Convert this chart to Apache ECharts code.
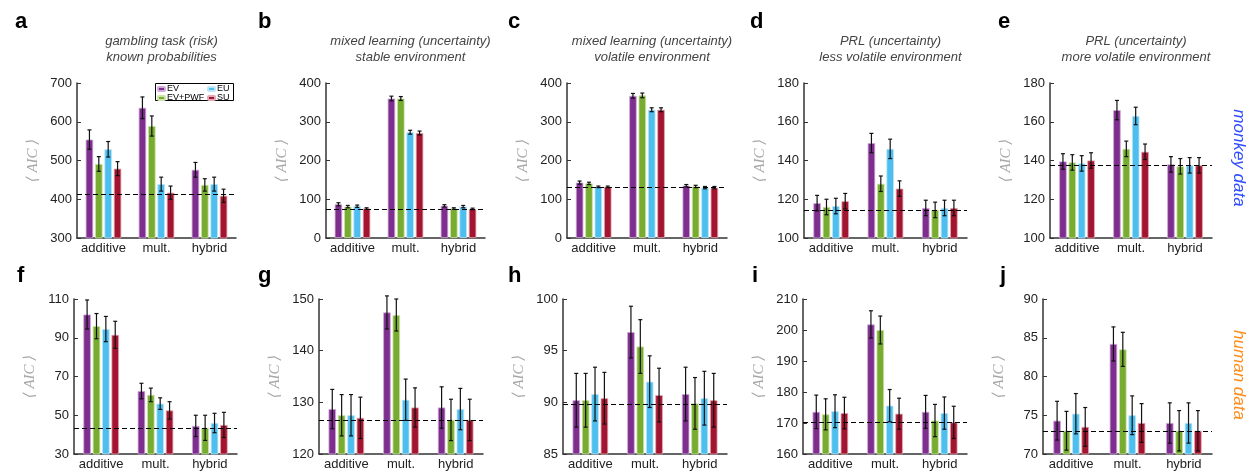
<!DOCTYPE html>
<html>
<head>
<meta charset="utf-8">
<script src="https://cdn.jsdelivr.net/npm/echarts@6/dist/echarts.min.js"></script>
<style>
	html, body { margin: 0; padding: 0; background: #fff; }
	#chart { width: 1256px; height: 476px; }
</style>
</head>
<body>
<div id="chart"></div>
<script>
	// categories and models
	const categories = ['additive', 'mult.', 'hybrid'];
	const models = ['EV', 'EV+PWF', 'EU', 'SU'];
	const letters = ['a', 'b', 'c', 'd', 'e', 'f', 'g', 'h', 'i', 'j'];
	const titles = [
		'gambling task (risk)\nknown probabilities',
		'mixed learning (uncertainty)\nstable environment',
		'mixed learning (uncertainty)\nvolatile environment',
		'PRL (uncertainty)\nless volatile environment',
		'PRL (uncertainty)\nmore volatile environment'
	];

	// y ticks per panel: [min, max, step]
	const yTicks = [
		[300, 700, 100], [0, 400, 100], [0, 400, 100], [100, 180, 20], [100, 180, 20],
		[30, 110, 20], [120, 150, 10], [85, 100, 5], [160, 210, 10], [70, 90, 5]
	];
	// dashed reference line per panel
	const baselines = [412, 75, 130, 114.5, 137.5, 43.5, 126.6, 89.8, 170.2, 72.9];

	// mean AIC: one row per model (EV, EV+PWF, EU, SU), columns = additive, mult., hybrid
	const meanA = [[554, 636, 476], [491, 589, 437], [529, 439, 439], [479, 417, 409]];
	const errA = [[25, 28, 19], [19, 26, 16], [20, 18, 18], [18, 17, 17]];
	const meanB = [[87, 360, 83], [81, 360, 76], [82, 273, 81], [76, 271, 75]];
	const errB = [[4, 6, 3], [3, 5, 2], [3, 5, 3], [2, 5, 2]];
	const meanC = [[143, 367, 135], [141, 368, 133], [132, 331, 130], [132, 331, 130]];
	const errC = [[4, 6, 3], [3, 6, 3], [2, 5, 3], [2, 5, 3]];
	const meanD = [[118, 149, 115.5], [116, 128, 114.5], [116.5, 146, 115.5], [119, 125.5, 115.5]];
	const errD = [[4, 5, 4], [4, 4, 4], [4, 5, 4], [4, 4, 4]];
	const meanE = [[139.5, 166, 138], [139, 146, 137], [138.5, 163, 137.5], [140, 144.5, 137.5]];
	const errE = [[4, 5, 4], [4, 4, 4], [4, 4.5, 4], [4, 4, 4]];
	const meanF = [[102, 62.5, 44.5], [96, 60.5, 43.5], [94.5, 56, 46], [91.5, 52.5, 45]];
	const errF = [[7.5, 4, 5.5], [6.5, 3.5, 6.5], [6.5, 3, 5], [7, 4.5, 6.5]];
	const meanG = [[128.7, 147.4, 129], [127.5, 146.9, 126.6], [127.5, 130.5, 128.7], [127, 129, 126.6]];
	const errG = [[3.8, 3.2, 4], [4, 3.1, 4], [4, 4, 4], [4, 3.8, 4]];
	const meanH = [[90.2, 96.8, 90.8], [90.2, 95.4, 89.9], [90.8, 92.0, 90.4], [90.4, 90.7, 90.2]];
	const errH = [[2.6, 2.5, 2.6], [2.6, 2.6, 2.5], [2.6, 2.5, 2.6], [2.5, 2.6, 2.6]];
	const meanI = [[173.6, 201.8, 173.6], [172.8, 200, 170.8], [173.8, 175.6, 173.2], [173.2, 173, 170.2]];
	const errI = [[5.4, 4.4, 5.3], [5, 4.5, 5.2], [5.3, 5.2, 5.2], [5.1, 5, 5.2]];
	const meanJ = [[74.3, 84.2, 74], [73, 83.5, 73], [75.2, 75, 74], [73.5, 74, 73]];
	const errJ = [[2.5, 2.2, 2.6], [2.5, 2.2, 2.6], [2.6, 2.5, 2.6], [2.5, 2.5, 2.6]];

	const means = [meanA, meanB, meanC, meanD, meanE, meanF, meanG, meanH, meanI, meanJ];
	const errs = [errA, errB, errC, errD, errE, errF, errG, errH, errI, errJ];

	const colors = ['#7E2F8E', '#77AC30', '#4DBEEE', '#A2142F'];
	const edge = ['#D2A9DA', '#CDE3A8', '#BDE6F8', '#E3A6B3'];
	const font = '"Liberation Sans", Arial, sans-serif';

	// axes layout
	const boxes = [
		[77, 83, 159], [326, 83, 159], [567, 83, 160], [804, 83, 163], [1050, 83, 162],
		[74, 299, 163], [319, 299, 164], [563, 299, 164], [803, 299, 164], [1043, 299, 169]
	];
	const letterPos = [
		[10, 6], [253, 6], [503, 6], [745, 6], [993, 6],
		[12, 260], [253, 260], [503, 260], [747, 260], [995, 260]
	];

	const BAR_W = 7.5;
	const BAR_GAP = 0.25;
	const step = BAR_W * (1 + BAR_GAP);

	let grid = [], xAxis = [], yAxis = [], series = [], title = [];

	boxes.forEach((b, p) => {
		grid.push({ left: b[0], top: b[1], width: b[2], height: 155 });
		xAxis.push({
			type: 'category', gridIndex: p, data: categories,
			axisLine: { lineStyle: { color: '#333', width: 1.5 } },
			axisTick: { inside: true, length: 4, alignWithLabel: true, lineStyle: { color: '#333' } },
			axisLabel: { interval: 0, color: '#222', fontSize: 13, fontFamily: font, margin: 4 }
		});
		yAxis.push({
			type: 'value', gridIndex: p,
			min: yTicks[p][0], max: yTicks[p][1], interval: yTicks[p][2],
			name: '⟨ AIC ⟩', nameLocation: 'middle', nameGap: 36, nameRotate: 90,
			nameTextStyle: { color: '#A8A8A8', fontSize: 15, fontStyle: 'italic', fontFamily: '"Liberation Serif", "DejaVu Serif", serif' },
			axisLine: { show: true, lineStyle: { color: '#333', width: 1.5 } },
			axisTick: { show: true, inside: true, length: 4, lineStyle: { color: '#333' } },
			axisLabel: { color: '#222', fontSize: 13, fontFamily: font, margin: 5 },
			splitLine: { show: false }
		});

		models.forEach((m, s) => {
			let bar = {
				name: m, type: 'bar', xAxisIndex: p, yAxisIndex: p,
				data: means[p][s], barWidth: BAR_W, barGap: (BAR_GAP * 100) + '%',
				itemStyle: { color: colors[s], borderColor: edge[s], borderWidth: 0.8 },
				silent: true
			};
			if (s === 0) {
				bar.markLine = {
					silent: true, symbol: ['none', 'none'], label: { show: false },
					lineStyle: { color: '#000', type: [5, 3], width: 1.2 },
					data: [{ yAxis: baselines[p] }],
					z: 5
				};
			}
			series.push(bar);
		});

		// error bars
		let errData = [];
		models.forEach((m, s) => {
			categories.forEach((c, k) => {
				errData.push([k, s, means[p][s][k], errs[p][s][k]]);
			});
		});
		series.push({
			type: 'custom', xAxisIndex: p, yAxisIndex: p, z: 4, silent: true,
			encode: { x: 0, y: 2 },
			data: errData,
			renderItem: function (params, api) {
				let k = api.value(0), s = api.value(1), m = api.value(2), e = api.value(3);
				let hi = api.coord([k, m + e]);
				let lo = api.coord([k, m - e]);
				let x = hi[0] + (s - 1.5) * step;
				let st = { stroke: '#111', lineWidth: 1.2 };
				return {
					type: 'group',
					children: [
						{ type: 'line', shape: { x1: x, y1: hi[1], x2: x, y2: lo[1] }, style: st },
						{ type: 'line', shape: { x1: x - 2, y1: hi[1], x2: x + 2, y2: hi[1] }, style: st },
						{ type: 'line', shape: { x1: x - 2, y1: lo[1], x2: x + 2, y2: lo[1] }, style: st }
					]
				};
			}
		});

		title.push({
			text: letters[p], left: letterPos[p][0], top: letterPos[p][1],
			textStyle: { fontSize: 22, fontWeight: 'bold', color: '#000', fontFamily: font }
		});
		if (p < 5) {
			title.push({
				text: titles[p], left: b[0] + b[2] / 2, top: 28, textAlign: 'center',
				textStyle: { fontSize: 13, fontStyle: 'italic', fontWeight: 'normal', color: '#444', fontFamily: font, lineHeight: 16 }
			});
		}
	});

	const legendCommon = {
		orient: 'vertical', top: 84.5,
		icon: 'roundRect', itemWidth: 7, itemHeight: 4, itemGap: 0, padding: 0,
		textStyle: { fontSize: 9, lineHeight: 8, color: '#000', fontFamily: font, padding: [0, 0, 0, -3] }
	};

	const chart = echarts.init(document.getElementById('chart'));
	chart.setOption({
		animation: false,
		title: title,
		grid: grid,
		xAxis: xAxis,
		yAxis: yAxis,
		series: series,
		legend: [
			Object.assign({ data: ['EV', 'EV+PWF'], left: 157 }, legendCommon),
			Object.assign({ data: ['EU', 'SU'], left: 207 }, legendCommon)
		],
		graphic: [
			{ type: 'rect', shape: { x: 155.5, y: 83.5, width: 78, height: 17 }, style: { fill: '#fff', stroke: '#000', lineWidth: 1 }, z: -1 },
			{
				type: 'text', x: 1239, y: 158, rotation: -Math.PI / 2,
				style: { text: 'monkey data', fill: '#2E4BFF', font: 'italic 17px "Liberation Sans", Arial, sans-serif', textAlign: 'center', textVerticalAlign: 'middle' }
			},
			{
				type: 'text', x: 1239, y: 375, rotation: -Math.PI / 2,
				style: { text: 'human data', fill: '#FF8C1A', font: 'italic 17px "Liberation Sans", Arial, sans-serif', textAlign: 'center', textVerticalAlign: 'middle' }
			}
		]
	});
</script>
</body>
</html>
